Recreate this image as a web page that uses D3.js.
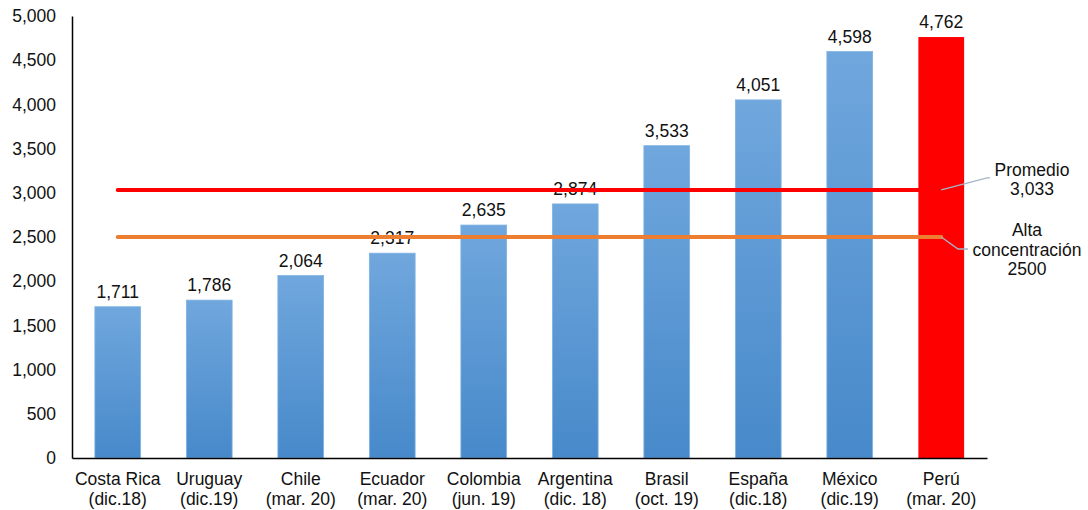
<!DOCTYPE html>
<html>
<head>
<meta charset="utf-8">
<script src="https://cdn.jsdelivr.net/npm/d3@7"></script>
<style>
  html, body { margin: 0; padding: 0; background: #fff; }
  svg { display: block; font-family: "Liberation Sans", Arial, sans-serif; }
</style>
</head>
<body>
<svg id="chart" width="1088" height="510"></svg>
<script>
// Países y fecha de referencia (dos líneas por etiqueta)
const countries = ["Costa Rica", "Uruguay", "Chile", "Ecuador", "Colombia", "Argentina", "Brasil", "España", "México", "Perú"];
const periods = ["(dic.18)", "(dic.19)", "(mar. 20)", "(mar. 20)", "(jun. 19)", "(dic. 18)", "(oct. 19)", "(dic.18)", "(dic.19)", "(mar. 20)"];
const values = [1711, 1786, 2064, 2317, 2635, 2874, 3533, 4051, 4598, 4762];
const averageValue = 3033;
const highConcentration = 2500;
const yTicks = [0, 500, 1000, 1500, 2000, 2500, 3000, 3500, 4000, 4500, 5000];

const svg = d3.select("#chart");
const plotLeft = 72, plotRight = 987, plotTop = 16, plotBottom = 458;
const fontSize = 17.5;

const x = d3.scaleBand().domain(countries).range([plotLeft, plotRight]).paddingInner(0.5).paddingOuter(0.25);
const y = d3.scaleLinear().domain([0, 5000]).range([plotBottom, plotTop]);
const fmt = d3.format(",");

// Degradado de las barras azules
const defs = svg.append("defs");
const grad = defs.append("linearGradient").attr("id", "blueBar")
  .attr("x1", 0).attr("y1", 0).attr("x2", 0).attr("y2", 1);
grad.append("stop").attr("offset", "0%").attr("stop-color", "#70a7dd");
grad.append("stop").attr("offset", "100%").attr("stop-color", "#4789ca");

// Barras
svg.append("g").selectAll("rect").data(values).join("rect")
  .attr("x", (d, i) => x(countries[i]))
  .attr("y", d => y(d))
  .attr("width", x.bandwidth())
  .attr("height", d => y(0) - y(d))
  .attr("fill", (d, i) => countries[i] === "Perú" ? "#ff0000" : "url(#blueBar)")
  .attr("stroke", (d, i) => countries[i] === "Perú" ? "none" : "#7fb3e3")
  .attr("stroke-width", 0.8);

// Valores sobre las barras
svg.append("g").selectAll("text").data(values).join("text")
  .attr("x", (d, i) => x(countries[i]) + x.bandwidth() / 2)
  .attr("y", d => y(d) - 9)
  .attr("text-anchor", "middle")
  .attr("font-size", fontSize)
  .attr("fill", "#111")
  .text(d => fmt(d));

// Eje Y
const yAxis = svg.append("g").attr("transform", `translate(${plotLeft},0)`)
  .call(d3.axisLeft(y).tickValues(yTicks).tickSize(0).tickPadding(16).tickFormat(fmt));
yAxis.select(".domain").attr("stroke", "#000").attr("stroke-width", 1.5);
yAxis.selectAll("text").attr("font-size", fontSize).attr("fill", "#111")
  .attr("font-family", "Liberation Sans, Arial, sans-serif");

// Eje X
const xAxis = svg.append("g").attr("transform", `translate(0,${plotBottom})`)
  .call(d3.axisBottom(x).tickSize(0).tickFormat(""));
xAxis.select(".domain").attr("stroke", "#000").attr("stroke-width", 1.5);

const catLabels = svg.append("g").selectAll("text").data(countries).join("text")
  .attr("x", d => x(d) + x.bandwidth() / 2)
  .attr("y", 485)
  .attr("text-anchor", "middle")
  .attr("font-size", fontSize)
  .attr("fill", "#111");
catLabels.append("tspan").attr("x", d => x(d) + x.bandwidth() / 2).text(d => d);
catLabels.append("tspan").attr("x", d => x(d) + x.bandwidth() / 2).attr("dy", 19.5)
  .text((d, i) => periods[i]);

// Líneas de referencia (de centro a centro de la primera y última barra)
const xFirst = x(countries[0]) + x.bandwidth() / 2;
const xLast = x(countries[countries.length - 1]) + x.bandwidth() / 2;

svg.append("line")
  .attr("x1", xFirst).attr("x2", xLast)
  .attr("y1", y(highConcentration)).attr("y2", y(highConcentration))
  .attr("stroke", "#ed7d31").attr("stroke-width", 4).attr("stroke-linecap", "round");

svg.append("line")
  .attr("x1", xFirst).attr("x2", xLast)
  .attr("y1", y(averageValue)).attr("y2", y(averageValue))
  .attr("stroke", "#ff0000").attr("stroke-width", 4).attr("stroke-linecap", "round");

// Líneas guía de las anotaciones
const leader = "#a5b5c8";
svg.append("polyline")
  .attr("points", [[xLast, y(averageValue)], [987, y(averageValue) - 12], [990, y(averageValue) - 12]].join(" "))
  .attr("fill", "none").attr("stroke", leader).attr("stroke-width", 1.3);
svg.append("polyline")
  .attr("points", [[xLast, y(highConcentration)], [958, y(highConcentration) + 12], [968, y(highConcentration) + 12]].join(" "))
  .attr("fill", "none").attr("stroke", leader).attr("stroke-width", 1.3);

// Anotaciones
const avgNote = svg.append("text").attr("text-anchor", "middle").attr("font-size", fontSize).attr("fill", "#111");
avgNote.append("tspan").attr("x", 1032).attr("y", 176).text("Promedio");
avgNote.append("tspan").attr("x", 1032).attr("y", 195).text(fmt(averageValue));

const hcNote = svg.append("text").attr("text-anchor", "middle").attr("font-size", fontSize).attr("fill", "#111");
hcNote.append("tspan").attr("x", 1027).attr("y", 236).text("Alta");
hcNote.append("tspan").attr("x", 1027).attr("y", 256).text("concentración");
hcNote.append("tspan").attr("x", 1027).attr("y", 275).text(String(highConcentration));
</script>
</body>
</html>
